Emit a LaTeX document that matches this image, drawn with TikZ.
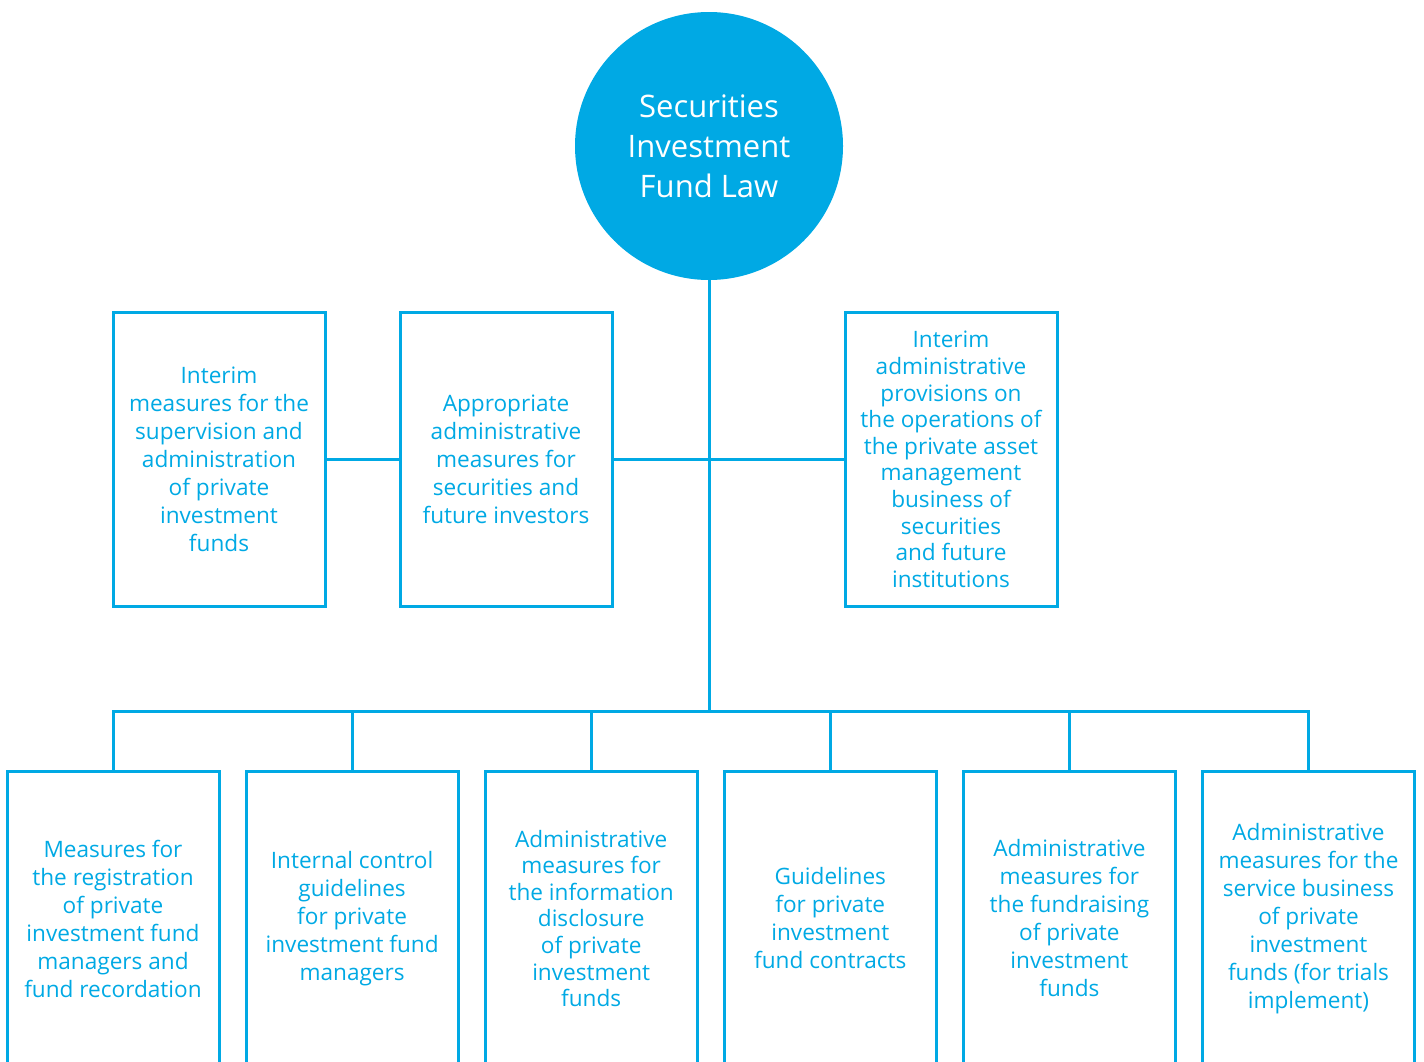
\documentclass[tikz,border=0pt]{standalone}
\usepackage{fontspec}
\setmainfont{Open Sans}
\usetikzlibrary{positioning}
\definecolor{fundblue}{RGB}{0,169,228}
\tikzset{
  law/.style={circle, fill=fundblue, text=white, minimum size=134pt, inner sep=0pt,
    align=center, font=\fontsize{15.5}{20}\selectfont},
  rule/.style={rectangle, draw=fundblue, line width=1.5pt, minimum width=106pt,
    minimum height=147pt, inner sep=0pt, outer sep=0pt, align=center, text=fundblue,
    font=\fontsize{11.3}{14}\selectfont},
  tight/.style={font=\fontsize{11.3}{13.3}\selectfont},
  link/.style={draw=fundblue, line width=1.5pt}
}
\begin{document}
\begin{tikzpicture}[x=0.5pt,y=-0.5pt]
    \useasboundingbox (0,0) rectangle (1424,1061);
    \clip (0,0) rectangle (1424,1061);
    \node[law] (law) at (709,146) {Securities\\Investment\\Fund Law};
    \node[rule] (mid2) at (506,459.5) {Appropriate\\administrative\\measures for\\securities and\\future investors};
    \node[rule, left=37.5pt of mid2] (mid1) {Interim\\measures for the\\supervision and\\administration\\of private\\investment\\funds};
    \node[rule, tight, right=116.5pt of mid2] (mid3) {Interim\\administrative\\provisions on\\the operations of\\the private asset\\management\\business of\\securities\\and future\\institutions};
    \node[rule] (low1) at (113,918.5) {Measures for\\the registration\\of private\\investment fund\\managers and\\fund recordation};
    \node[rule, right=13.55pt of low1] (low2) {Internal control\\guidelines\\for private\\investment fund\\managers};
    \node[rule, tight, right=13.55pt of low2] (low3) {Administrative\\measures for\\the information\\disclosure\\of private\\investment\\funds};
    \node[rule, right=13.55pt of low3] (low4) {Guidelines\\for private\\investment\\fund contracts};
    \node[rule, right=13.55pt of low4] (low5) {Administrative\\measures for\\the fundraising\\of private\\investment\\funds};
    \node[rule, right=13.55pt of low5] (low6) {Administrative\\measures for the\\service business\\of private\\investment\\funds (for trials\\implement)};
    \coordinate (hub) at (709,711);
    \draw[link] (law.south) -- (hub);
    \draw[link] (mid1) -- (mid2);
    \draw[link] (mid2) -- (mid3);
    \draw[link] (hub) -| (low1.north);
    \draw[link] (hub) -| (low2.north);
    \draw[link] (hub) -| (low3.north);
    \draw[link] (hub) -| (low4.north);
    \draw[link] (hub) -| (low5.north);
    \draw[link] (hub) -| (low6.north);
\end{tikzpicture}
\end{document}
